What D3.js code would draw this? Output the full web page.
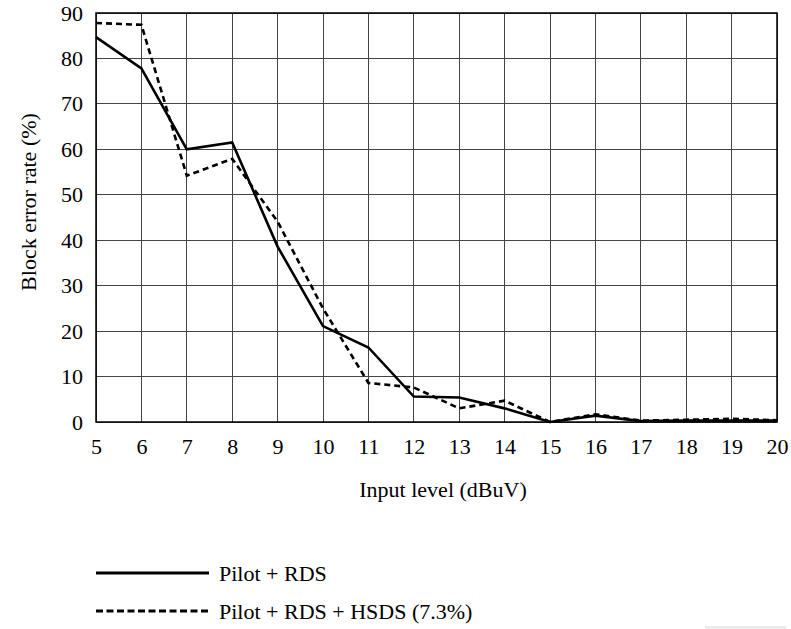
<!DOCTYPE html>
<html><head><meta charset="utf-8">
<script src="https://cdn.jsdelivr.net/npm/d3@7"></script>
<style>body{margin:0;background:#fff}svg{display:block}text{font-family:"Liberation Serif","Times New Roman",serif;fill:#000}</style>
</head><body><svg id="c" width="791" height="629"></svg>
<script>
const inputLevels = [5,6,7,8,9,10,11,12,13,14,15,16,17,18,19,20];
const pilotRds = [84.7,77.8,60,61.5,38.6,21.1,16.4,5.6,5.4,3.0,0,1.4,0.2,0.3,0.3,0.3];
const pilotRdsHsds = [87.8,87.4,54.2,57.9,44.1,25,8.6,7.6,3.0,4.7,0,1.7,0.3,0.5,0.7,0.4];
const yTicks = [0,10,20,30,40,50,60,70,80,90];
const seriesNames = ["Pilot + RDS","Pilot + RDS + HSDS (7.3%)"];

const svg = d3.select("#c");
const L=96,R=777,T=13,B=422;
const x = d3.scaleLinear().domain([5,20]).range([L,R]);
const y = d3.scaleLinear().domain([0,90]).range([B,T]);
const fs = "22px";

// grid
svg.append("g").selectAll("line").data(inputLevels).join("line")
  .attr("x1",d=>x(d)).attr("x2",d=>x(d)).attr("y1",T).attr("y2",B)
  .attr("stroke","#444").attr("stroke-width",1).attr("shape-rendering","crispEdges");
svg.append("g").selectAll("line").data(yTicks).join("line")
  .attr("x1",L).attr("x2",R).attr("y1",d=>y(d)).attr("y2",d=>y(d))
  .attr("stroke","#444").attr("stroke-width",1).attr("shape-rendering","crispEdges");
svg.append("rect").attr("x",L).attr("y",T).attr("width",R-L).attr("height",B-T)
  .attr("fill","none").attr("stroke","#000").attr("stroke-width",1.5);

// axes
const xa = svg.append("g").attr("transform",`translate(0,${B})`)
  .call(d3.axisBottom(x).tickValues(inputLevels).tickFormat(d3.format("d")).tickSize(0).tickPadding(16));
xa.select(".domain").remove();
xa.selectAll("text").style("font-size",fs).style("font-family","Liberation Serif");
const ya = svg.append("g").attr("transform",`translate(${L},0)`)
  .call(d3.axisLeft(y).tickValues(yTicks).tickFormat(d3.format("d")).tickSize(0).tickPadding(13));
ya.select(".domain").remove();
ya.selectAll("text").style("font-size",fs).style("font-family","Liberation Serif");

svg.append("text").attr("x",443).attr("y",497).attr("text-anchor","middle").style("font-size",fs).text("Input level (dBuV)");
svg.append("text").attr("transform","translate(36,202) rotate(-90)").attr("text-anchor","middle").style("font-size",fs).text("Block error rate (%)");

// lines
const line = d3.line().x((d,i)=>x(inputLevels[i])).y(d=>y(d));
svg.append("path").datum(pilotRds).attr("d",line).attr("fill","none").attr("stroke","#000").attr("stroke-width",2.6).attr("stroke-linejoin","miter");
svg.append("path").datum(pilotRdsHsds).attr("d",line).attr("fill","none").attr("stroke","#000").attr("stroke-width",2.6).attr("stroke-dasharray","6,4");

// legend
const leg = [{y:573,dash:null},{y:611,dash:"7,3.5"}];
leg.forEach((l,i)=>{
  svg.append("line").attr("x1",96).attr("x2",209).attr("y1",l.y).attr("y2",l.y)
    .attr("stroke","#000").attr("stroke-width",3).attr("stroke-dasharray",l.dash);
  svg.append("text").attr("x",219).attr("y",l.y+8).style("font-size",fs).text(seriesNames[i]);
});
svg.append("rect").attr("x",705).attr("y",626).attr("width",81).attr("height",3).attr("fill","#ececec");
</script></body></html>
